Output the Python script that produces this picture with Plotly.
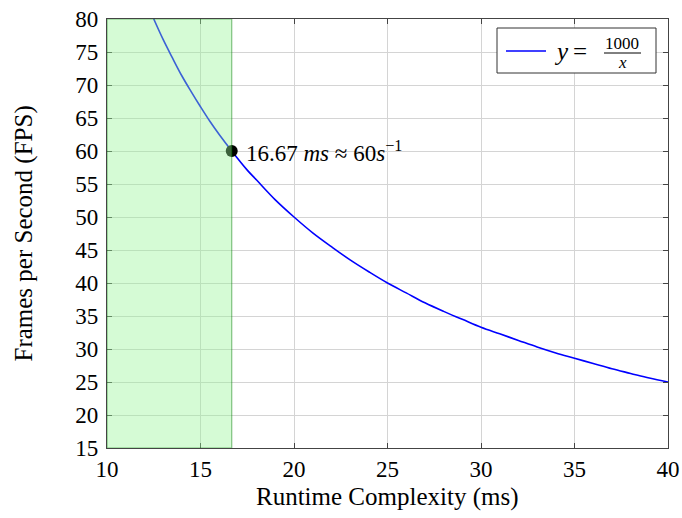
import plotly.graph_objects as go

# values (curve y = 1000/x)
x_vals = [12.5, 13, 13.5, 14, 14.5, 15, 15.5, 16, 16.67, 17.5, 18, 19, 20, 21, 22, 23, 24, 25,
          26, 27, 28, 29, 30, 31, 32, 33, 34, 35, 36, 37, 38, 39, 40]
y_vals = [80, 76.9, 74.1, 71.4, 69.0, 66.7, 64.5, 62.5, 60, 57.1, 55.6, 52.6, 50, 47.6, 45.5, 43.5, 41.7, 40,
          38.5, 37.0, 35.7, 34.5, 33.3, 32.3, 31.3, 30.3, 29.4, 28.6, 27.8, 27.0, 26.3, 25.6, 25]
point_x = [16.67]
point_y = [60]
x_ticks = [10, 15, 20, 25, 30, 35, 40]
y_ticks = [15, 20, 25, 30, 35, 40, 45, 50, 55, 60, 65, 70, 75, 80]
region_x = [10, 16.67]
region_y = [15, 80]

FONT = "Liberation Serif"

fig = go.Figure()
fig.add_trace(go.Scatter(x=x_vals, y=y_vals, mode="lines", line=dict(color="rgb(0,0,255)", width=1.6, shape="spline"),
                         showlegend=False, hoverinfo="skip"))
fig.add_trace(go.Scatter(x=point_x, y=point_y, mode="markers", marker=dict(color="black", size=12),
                         showlegend=False, hoverinfo="skip"))

# shaded region drawn above the data
fig.add_shape(type="rect", xref="x", yref="y", x0=region_x[0], x1=region_x[1], y0=region_y[0], y1=region_y[1],
              fillcolor="rgba(150,245,150,0.40)", line=dict(color="rgba(0,120,0,0.45)", width=1.2), layer="above")

# point label
fig.add_annotation(x=point_x[0], y=point_y[0], xref="x", yref="y", xanchor="left", yanchor="middle", xshift=12,
                   text="16.67 <i>ms</i> ≈ 60<i>s</i><sup>−1</sup>", showarrow=False,
                   font=dict(family=FONT, size=23, color="black"))

# custom legend box (paper coords)
L, R, T, B = 107, 668, 19, 448
def px(xp):
    return (xp - L) / (R - L)
def py(yp):
    return (B - yp) / (B - T)

fig.add_shape(type="rect", xref="paper", yref="paper", x0=px(497), x1=px(656), y0=py(73), y1=py(28),
              fillcolor="white", line=dict(color="#333", width=1), layer="above")
fig.add_shape(type="line", xref="paper", yref="paper", x0=px(506), x1=px(546), y0=py(51), y1=py(51),
              line=dict(color="rgb(0,0,255)", width=1.6), layer="above")
fig.add_annotation(x=px(552), y=py(52), xref="paper", yref="paper", xanchor="left", yanchor="middle",
                   text="<i>y</i>\u2009=", showarrow=False, font=dict(family=FONT, size=25, color="black"))
fig.add_annotation(x=px(622), y=py(43), xref="paper", yref="paper", xanchor="center", yanchor="middle",
                   text="1000", showarrow=False, font=dict(family=FONT, size=17, color="black"))
fig.add_shape(type="line", xref="paper", yref="paper", x0=px(604), x1=px(641), y0=py(53), y1=py(53),
              line=dict(color="black", width=1), layer="above")
fig.add_annotation(x=px(622), y=py(63), xref="paper", yref="paper", xanchor="center", yanchor="middle",
                   text="<i>x</i>", showarrow=False, font=dict(family=FONT, size=17, color="black"))

# axis titles
fig.add_annotation(x=0.5, y=py(497), xref="paper", yref="paper", xanchor="center", yanchor="middle",
                   text="Runtime Complexity (ms)", showarrow=False, font=dict(family=FONT, size=25, color="black"))
fig.add_annotation(x=px(23), y=0.5, xref="paper", yref="paper", xanchor="center", yanchor="middle", textangle=-90,
                   text="Frames per Second (FPS)", showarrow=False, font=dict(family=FONT, size=25, color="black"))

axis_common = dict(showgrid=True, gridcolor="#d4d4d4", gridwidth=1, showline=True, linecolor="#444", linewidth=1.2,
                   mirror="allticks", ticks="inside", ticklen=5, tickcolor="#444", zeroline=False,
                   tickfont=dict(family=FONT, size=23, color="black"))
fig.update_xaxes(range=[10, 40], tickvals=x_ticks, automargin=False, **axis_common)
fig.update_yaxes(range=[15, 80], tickvals=y_ticks, ticklabelstandoff=3, automargin=False, **axis_common)

fig.update_layout(width=682, height=518, margin=dict(l=L, r=682 - R, t=T, b=518 - B, autoexpand=False),
                  plot_bgcolor="white", paper_bgcolor="white", showlegend=False)

fig.write_html("out.html", config={"displayModeBar": False},
               post_script="document.body.style.margin='0';document.body.style.padding='0';")
